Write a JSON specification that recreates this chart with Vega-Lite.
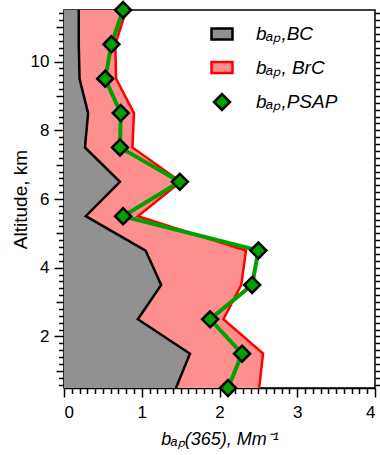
{
  "$schema": "https://vega.github.io/schema/vega-lite/v6.json",
  "width": 311,
  "height": 378,
  "autosize": {"type": "none"},
  "padding": {"left": 64, "top": 10, "right": 5, "bottom": 67},
  "background": "white",
  "config": {
    "view": {"stroke": "black", "strokeWidth": 1.5},
    "font": "Liberation Sans",
    "axis": {
      "labelFont": "Liberation Sans", "labelFontSize": 17, "labelColor": "black",
      "titleFont": "Liberation Sans", "titleFontSize": 18, "titleColor": "black", "titleFontWeight": "normal",
      "tickColor": "black", "tickWidth": 1.5, "domainColor": "black", "domainWidth": 1.5, "grid": false
    },
    "legend": {
      "labelFont": "Liberation Sans", "labelFontSize": 19, "labelFontStyle": "italic", "labelColor": "black",
      "symbolSize": 441, "symbolStrokeWidth": 2.5, "rowPadding": 10.5, "labelOffset": 22, "padding": 0
    }
  },
  "data": {
    "values": [
      {"alt": 0.5, "bc": 1.44, "brc": 2.51, "psap": 2.11},
      {"alt": 1.5, "bc": 1.62, "brc": 2.56, "psap": 2.29},
      {"alt": 2.5, "bc": 0.95, "brc": 2.05, "psap": 1.88},
      {"alt": 3.5, "bc": 1.25, "brc": 2.28, "psap": 2.42},
      {"alt": 4.5, "bc": 1.05, "brc": 2.34, "psap": 2.5},
      {"alt": 5.5, "bc": 0.28, "brc": 0.95, "psap": 0.76},
      {"alt": 6.5, "bc": 0.72, "brc": 1.5, "psap": 1.49},
      {"alt": 7.5, "bc": 0.27, "brc": 0.88, "psap": 0.72},
      {"alt": 8.5, "bc": 0.31, "brc": 0.9, "psap": 0.73},
      {"alt": 9.5, "bc": 0.2, "brc": 0.67, "psap": 0.53},
      {"alt": 10.5, "bc": 0.19, "brc": 0.66, "psap": 0.61},
      {"alt": 11.5, "bc": 0.19, "brc": 0.8, "psap": 0.76}
    ]
  },
  "resolve": {"axis": {"x": "independent", "y": "independent"}},
  "layer": [
    {
      "mark": {"type": "area", "orient": "horizontal", "opacity": 1},
      "encoding": {
        "x": {"field": "brc", "type": "quantitative",
          "scale": {"domain": [0, 4], "nice": false, "zero": false},
          "axis": {"orient": "bottom", "values": [0, 1, 2, 3, 4], "tickSize": 9, "labelPadding": 7,
            "title": "bₐₚ(365), Mm⁻¹", "titleFontStyle": "italic", "titlePadding": 10}},
        "x2": {"field": "bc"},
        "y": {"field": "alt", "type": "quantitative",
          "scale": {"domain": [0.5, 11.5], "nice": false, "zero": false},
          "axis": {"orient": "left", "values": [2, 4, 6, 8, 10], "tickSize": 10, "labelPadding": 5,
            "title": "Altitude, km", "titleFontSize": 19, "titlePadding": 0}},
        "fill": {"datum": "bₐₚ, BrC",
          "scale": {"domain": ["bₐₚ,BC", "bₐₚ, BrC", "bₐₚ,PSAP"], "range": ["#919191", "#ff8f8f", "#00a000"]},
          "legend": {"title": null, "orient": "none", "legendX": 146, "legendY": 12}}
      }
    },
    {
      "mark": {"type": "area", "orient": "horizontal", "opacity": 1},
      "encoding": {
        "x": {"field": "bc", "type": "quantitative",
          "axis": {"orient": "bottom", "labels": false, "domain": false, "title": null, "tickSize": 5.5,
            "values": [0.1,0.2,0.3,0.4,0.5,0.6,0.7,0.8,0.9,1.1,1.2,1.3,1.4,1.5,1.6,1.7,1.8,1.9,2.1,2.2,2.3,2.4,2.5,2.6,2.7,2.8,2.9,3.1,3.2,3.3,3.4,3.5,3.6,3.7,3.8,3.9]}},
        "x2": {"datum": 0},
        "y": {"field": "alt", "type": "quantitative",
          "axis": {"orient": "left", "labels": false, "domain": false, "title": null, "tickSize": 5.5,
            "values": [0.6,0.8,1.2,1.4,1.6,1.8,2.2,2.4,2.6,2.8,3.2,3.4,3.6,3.8,4.2,4.4,4.6,4.8,5.2,5.4,5.6,5.8,6.2,6.4,6.6,6.8,7.2,7.4,7.6,7.8,8.2,8.4,8.6,8.8,9.2,9.4,9.6,9.8,10.2,10.4,10.6,10.8,11.2,11.4]}},
        "fill": {"datum": "bₐₚ,BC"}
      }
    },
    {
      "mark": {"type": "line", "stroke": "#ff0000", "strokeWidth": 2.5},
      "encoding": {
        "x": {"field": "brc", "type": "quantitative", "axis": null},
        "y": {"field": "alt", "type": "quantitative",
          "axis": {"orient": "left", "labels": false, "domain": false, "title": null, "tickSize": 8,
            "values": [1, 3, 5, 7, 9, 11]}},
        "order": {"field": "alt"}
      }
    },
    {
      "mark": {"type": "line", "stroke": "black", "strokeWidth": 2.5},
      "encoding": {
        "x": {"field": "bc", "type": "quantitative", "axis": null},
        "y": {"field": "alt", "type": "quantitative",
          "axis": {"orient": "right", "labels": false, "domain": false, "title": null, "tickSize": 5,
            "values": [0.6,0.8,1,1.2,1.4,1.6,1.8,2,2.2,2.4,2.6,2.8,3,3.2,3.4,3.6,3.8,4,4.2,4.4,4.6,4.8,5,5.2,5.4,5.6,5.8,6,6.2,6.4,6.6,6.8,7,7.2,7.4,7.6,7.8,8,8.2,8.4,8.6,8.8,9,9.2,9.4,9.6,9.8,10,10.2,10.4,10.6,10.8,11,11.2,11.4]}},
        "order": {"field": "alt"}
      }
    },
    {
      "mark": {"type": "line", "stroke": "#00a000", "strokeWidth": 4},
      "encoding": {
        "x": {"field": "psap", "type": "quantitative", "axis": null},
        "y": {"field": "alt", "type": "quantitative", "axis": null},
        "order": {"field": "alt"}
      }
    },
    {
      "mark": {"type": "point", "filled": true, "opacity": 1, "size": 441, "strokeWidth": 2.5},
      "encoding": {
        "x": {"field": "psap", "type": "quantitative", "axis": null},
        "y": {"field": "alt", "type": "quantitative", "axis": null},
        "fill": {"datum": "bₐₚ,PSAP"},
        "stroke": {"datum": "bₐₚ,PSAP",
          "scale": {"domain": ["bₐₚ,BC", "bₐₚ, BrC", "bₐₚ,PSAP"], "range": ["black", "#ff0000", "black"]},
          "legend": {"title": null, "orient": "none", "legendX": 146, "legendY": 12}},
        "shape": {"datum": "bₐₚ,PSAP",
          "scale": {"domain": ["bₐₚ,BC", "bₐₚ, BrC", "bₐₚ,PSAP"],
            "range": ["M-1,-0.52H1V0.52H-1Z", "M-1,-0.52H1V0.52H-1Z", "M0,-0.76L0.76,0L0,0.76L-0.76,0Z"]},
          "legend": {"title": null, "orient": "none", "legendX": 146, "legendY": 12}}
      }
    }
  ]
}
